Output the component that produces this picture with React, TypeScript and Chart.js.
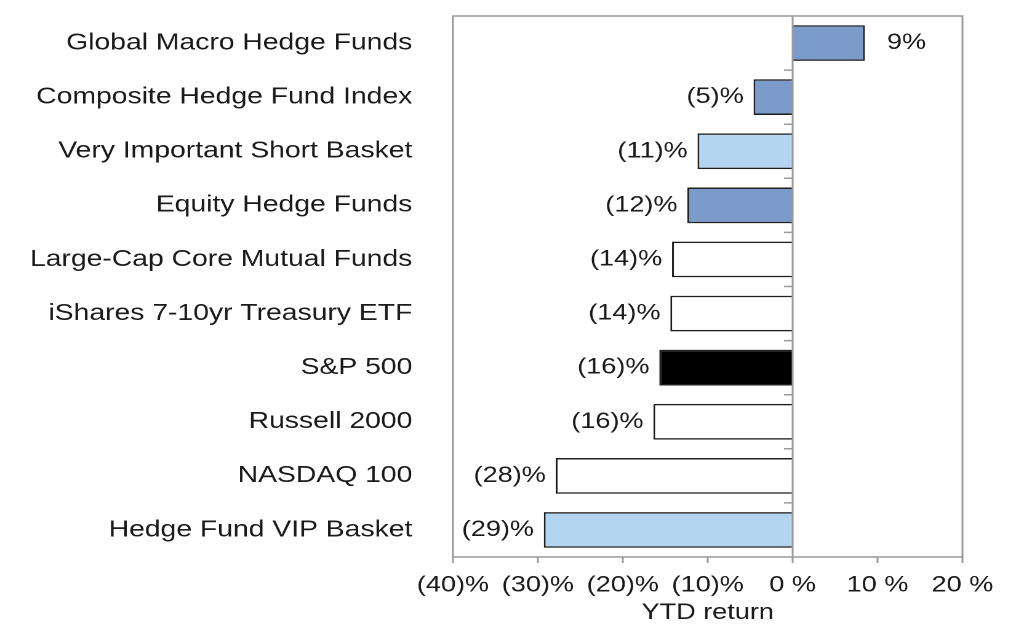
import { useEffect, useRef } from "react";
import { Chart, registerables } from "chart.js";

Chart.register(...registerables);

const categories = [
  "Global Macro Hedge Funds",
  "Composite Hedge Fund Index",
  "Very Important Short Basket",
  "Equity Hedge Funds",
  "Large-Cap Core Mutual Funds",
  "iShares 7-10yr Treasury ETF",
  "S&P 500",
  "Russell 2000",
  "NASDAQ 100",
  "Hedge Fund VIP Basket",
];
const ytdReturns = [8.5, -4.6, -11.2, -12.4, -14.2, -14.4, -15.7, -16.4, -27.9, -29.3];
const MED = "#7B9BCB";
const LIGHT = "#B4D5F1";
const WHITE = "#FFFFFF";
const BLACK = "#000000";
const barColors = [MED, MED, LIGHT, MED, WHITE, WHITE, BLACK, WHITE, WHITE, LIGHT];
const xTickValues = [-40, -30, -20, -10, 0, 10, 20];
const axisTitle = "YTD return";

const FONT = '"Liberation Sans", Arial, sans-serif';
const GRAY = "#9A9A9A";
const TEXT = "#1A1A1A";
const SX = 1.2308;

const fmtTick = (v: number) => (v < 0 ? `(${-v})%` : `${v} %`);
const fmtLabel = (v: number) => (v < 0 ? `(${Math.round(-v)})%` : `${Math.round(v)}%`);

const decor = {
  id: "decor",
  afterDatasetsDraw(chart: any) {
    const { ctx, chartArea: a, scales } = chart;
    const x = scales.x;
    const y = scales.y;
    ctx.save();
    ctx.strokeStyle = GRAY;
    ctx.lineWidth = 1.5;
    ctx.strokeRect(a.left, a.top, a.right - a.left, a.bottom - a.top);
    const x0 = x.getPixelForValue(0);
    ctx.beginPath();
    ctx.moveTo(x0, a.top);
    ctx.lineTo(x0, a.bottom);
    for (let i = 1; i < categories.length; i++) {
      const yy = y.getPixelForValue(i - 0.5);
      ctx.moveTo(x0 - 7, yy);
      ctx.lineTo(x0, yy);
    }
    ctx.stroke();

    const meta = chart.getDatasetMeta(0);
    ctx.font = `22px ${FONT}`;
    ctx.fillStyle = TEXT;
    ctx.textBaseline = "middle";
    meta.data.forEach((bar: any, i: number) => {
      const v = ytdReturns[i];
      const txt = fmtLabel(v);
      if (v >= 0) {
        ctx.textAlign = "left";
        ctx.fillText(txt, bar.x + 18, bar.y);
      } else {
        ctx.textAlign = "right";
        ctx.fillText(txt, bar.x - 8, bar.y);
      }
    });
    ctx.restore();
  },
};

export default function App() {
  const ref = useRef<HTMLCanvasElement | null>(null);
  useEffect(() => {
    if (!ref.current) return;
    const chart = new Chart(ref.current, {
      type: "bar",
      data: {
        labels: categories,
        datasets: [
          {
            data: ytdReturns,
            backgroundColor: barColors,
            borderColor: "#1E1E1E",
            borderWidth: 1.5,
            categoryPercentage: 1,
            barPercentage: 0.66,
          },
        ],
      },
      options: {
        indexAxis: "y",
        animation: false,
        responsive: true,
        maintainAspectRatio: false,
        devicePixelRatio: 2,
        layout: { padding: { top: 16, right: 50, bottom: 0, left: 0 } },
        plugins: {
          legend: { display: false },
          tooltip: { enabled: false },
        },
        scales: {
          x: {
            type: "linear",
            min: -40,
            max: 20,
            afterBuildTicks: (s: any) => {
              s.ticks = xTickValues.map((v) => ({ value: v }));
            },
            afterFit: (s: any) => {
              s.height = 83;
              s.paddingLeft = 0;
              s.paddingRight = 0;
            },
            grid: {
              display: true,
              drawOnChartArea: false,
              drawTicks: true,
              tickLength: 6,
              tickColor: GRAY,
              tickWidth: 1.5,
            },
            border: { display: false },
            ticks: {
              padding: 9,
              color: TEXT,
              font: { family: FONT, size: 22 },
              maxRotation: 0,
              autoSkip: false,
              callback: (v: any) => fmtTick(Number(v)),
            },
            title: {
              display: true,
              text: axisTitle,
              color: TEXT,
              font: { family: FONT, size: 22 },
              padding: { top: 0, bottom: 14 },
            },
          },
          y: {
            type: "category",
            afterFit: (s: any) => {
              s.width = 368;
              s.paddingTop = 0;
              s.paddingBottom = 0;
            },
            grid: { display: false, drawTicks: false },
            border: { display: false },
            ticks: {
              padding: 33,
              color: TEXT,
              font: { family: FONT, size: 23 },
              autoSkip: false,
            },
          },
        },
      },
      plugins: [decor],
    });
    return () => chart.destroy();
  }, []);

  return (
    <div
      style={{
        position: "fixed",
        left: 0,
        top: 0,
        width: 1024,
        height: 640,
        overflow: "hidden",
        background: "#fff",
      }}
    >
      <div
        style={{
          width: 832,
          height: 640,
          transform: `scaleX(${SX})`,
          transformOrigin: "0 0",
        }}
      >
        <canvas ref={ref} />
      </div>
    </div>
  );
}
